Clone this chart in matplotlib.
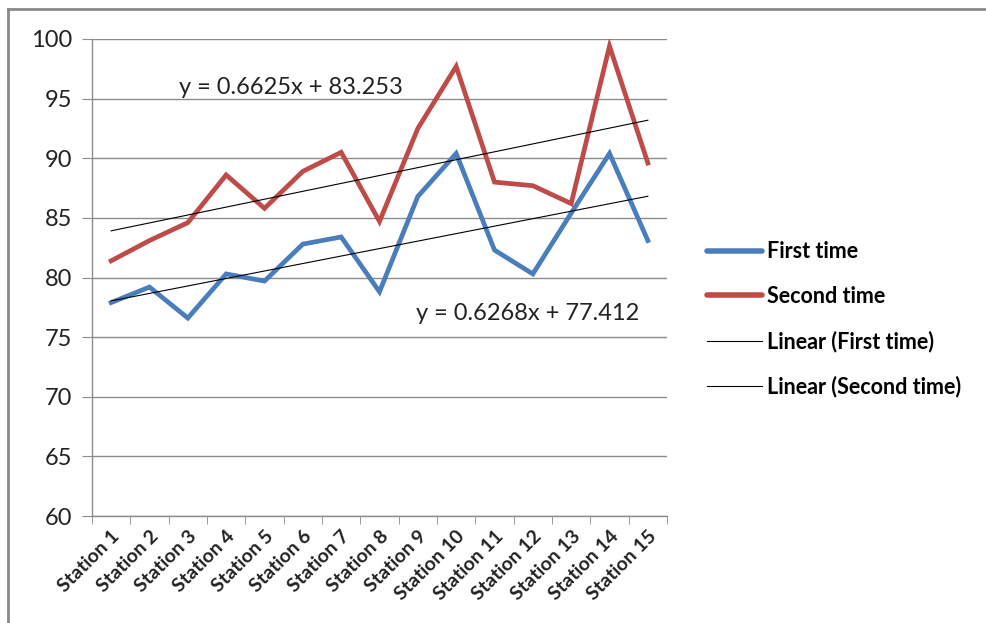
import matplotlib
matplotlib.use("Agg")
import matplotlib.pyplot as plt
from matplotlib.lines import Line2D

# ── DATA ─────────────────────────────────────────────────────────────────────
stations = [f"Station {i}" for i in range(1, 16)]
first_time = [77.9, 79.2, 76.6, 80.3, 79.7, 82.8, 83.4, 78.8,
              86.8, 90.4, 82.3, 80.3, 85.4, 90.4, 83.1]
second_time = [81.4, 83.1, 84.6, 88.6, 85.8, 88.9, 90.5, 84.7,
               92.5, 97.7, 88.0, 87.7, 86.2, 99.4, 89.6]
# trendline coefficients as shown on the chart
fit_first = (0.6268, 77.412)
fit_second = (0.6625, 83.253)
y_ticks = [60, 65, 70, 75, 80, 85, 90, 95, 100]

# ── STYLE ────────────────────────────────────────────────────────────────────
BLUE = "#4A7EBB"
RED = "#BE4B48"
GRID = "#8C8C8C"
plt.rcParams["font.family"] = ["Lato", "DejaVu Sans"]

fig = plt.figure(figsize=(9.87, 6.23), dpi=100)
ax = fig.add_axes([0.0932, 0.1717, 0.5826, 0.7657])

x = list(range(1, len(stations) + 1))
ax.plot(x, first_time, color=BLUE, linewidth=3.4, label="First time",
        solid_joinstyle="miter", zorder=3)
ax.plot(x, second_time, color=RED, linewidth=3.4, label="Second time",
        solid_joinstyle="miter", zorder=3)
ax.plot(x, [fit_first[0] * v + fit_first[1] for v in x], color="black",
        linewidth=0.8, label="Linear (First time)", zorder=4)
ax.plot(x, [fit_second[0] * v + fit_second[1] for v in x], color="black",
        linewidth=0.8, label="Linear (Second time)", zorder=4)

ax.text(2.77, 95.9, f"y = {fit_second[0]}x + {fit_second[1]}",
        fontsize=17, va="center", ha="left", color="#222222")
ax.text(8.95, 77.0, f"y = {fit_first[0]}x + {fit_first[1]}",
        fontsize=17, va="center", ha="left", color="#222222")

ax.set_xlim(0.5, len(stations) + 0.5)
ax.set_ylim(60, 100)
ax.set_yticks(y_ticks)
ax.tick_params(axis="y", labelsize=17, length=7, color=GRID, pad=7,
               labelcolor="#222222")
ax.grid(axis="y", color=GRID, linewidth=1)
ax.set_axisbelow(True)

# category labels centred, tick marks between categories
ax.set_xticks(x)
ax.set_xticklabels(stations, rotation=45, ha="right", rotation_mode="anchor",
                   fontsize=14, fontweight="bold", color="#222222")
ax.tick_params(axis="x", which="major", length=0, pad=8)
ax.set_xticks([v + 0.5 for v in range(0, len(stations) + 1)], minor=True)
ax.tick_params(axis="x", which="minor", length=6, color=GRID)

for side in ("top", "right"):
    ax.spines[side].set_visible(False)
for side in ("left", "bottom"):
    ax.spines[side].set_color(GRID)
    ax.spines[side].set_linewidth(1)

handles = [
    Line2D([], [], color=BLUE, linewidth=4, solid_capstyle="round"),
    Line2D([], [], color=RED, linewidth=4, solid_capstyle="round"),
    Line2D([], [], color="black", linewidth=0.8),
    Line2D([], [], color="black", linewidth=0.8),
]
labels = ["First time", "Second time", "Linear (First time)", "Linear (Second time)"]
fig.legend(handles, labels, loc="center left", bbox_to_anchor=(0.6965, 0.4872),
           frameon=False, handlelength=2.55, handletextpad=0.25,
           labelspacing=1.1, prop={"size": 15.5, "weight": "bold"})

# chart frame (only left and top edges visible in the crop)
fig.add_artist(Line2D([0.0081, 0.0081], [0, 0.9856], color="#8A8A8A",
                      linewidth=2, transform=fig.transFigure))
fig.add_artist(Line2D([0.0081, 1.0], [0.9856, 0.9856], color="#8A8A8A",
                      linewidth=2, transform=fig.transFigure))

fig.savefig("out.png", dpi=100, facecolor="white")
